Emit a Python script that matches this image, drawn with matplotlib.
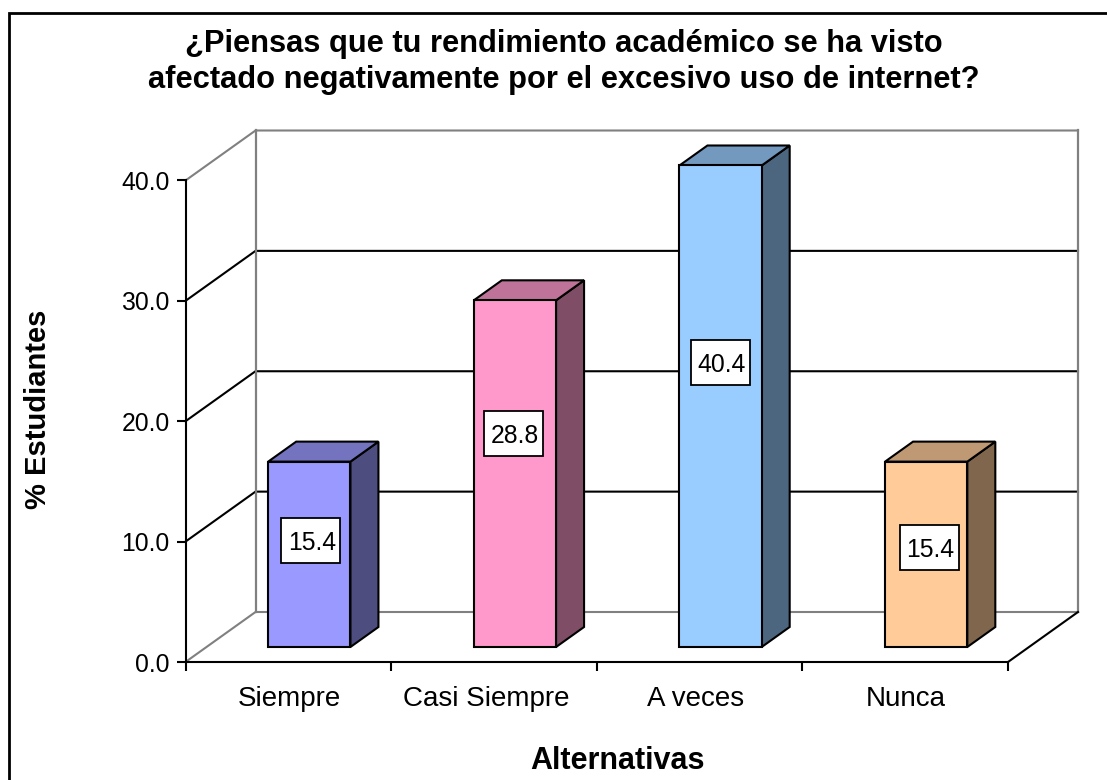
import matplotlib
matplotlib.use("Agg")
import matplotlib.pyplot as plt
import numpy as np
from matplotlib.colors import to_rgb
from matplotlib.lines import Line2D
from matplotlib.patches import Polygon, Rectangle
from matplotlib.transforms import IdentityTransform, ScaledTranslation

plt.rcParams['font.family'] = ['Liberation Sans', 'DejaVu Sans']

categories = ["Siempre", "Casi Siempre", "A veces", "Nunca"]
values = [15.4, 28.8, 40.4, 15.4]
colors = ["#9999FF", "#FF99CC", "#99CCFF", "#FFCC99"]
y_ticks = [0, 10, 20, 30, 40]
title = "¿Piensas que tu rendimiento académico se ha visto\nafectado negativamente por el excesivo uso de internet?"
x_label = "Alternativas"
y_label = "% Estudiantes"

# label centres, in axis units (they were hand placed in the original)
label_x = [0.610, 1.595, 2.602, 3.616]
label_y = [10.13, 19.0, 24.92, 9.55]
# small pixel shifts of the category labels
cat_shift = [1.5, -7.5, -4, 0.5]

W, H = 1107, 780
L, R, T, B = 185.5, 1008, 180.5, 662
YMAX = 40
fig = plt.figure(figsize=(W / 100, H / 100), dpi=100, facecolor="white")
ax = fig.add_axes([L / W, 1 - B / H, (R - L) / W, (B - T) / H])
ax.patch.set_alpha(0)
ax.set_xlim(0, len(categories))
ax.set_ylim(0, YMAX)

DX = 70 * len(categories) / (R - L)
DY = 50 * YMAX / (B - T)
GRAY = "#808080"
XN = len(categories)

# walls and gridlines
for t in y_ticks:
    c = GRAY if t in (0, YMAX) else "black"
    ax.plot([0, DX, XN + DX], [t, t + DY, t + DY], color=c, lw=1.5, zorder=1,
            clip_on=False, solid_joinstyle="miter")
ax.plot([DX, DX], [DY, YMAX + DY], color=GRAY, lw=1.6, zorder=1.1, clip_on=False)
ax.plot([XN + DX, XN + DX], [DY, YMAX + DY], color=GRAY, lw=1.6, zorder=1.1, clip_on=False)
ax.plot([XN, XN + DX], [0, DY], color="black", lw=1.5, zorder=1.2, clip_on=False)


def shade(col, f):
    return tuple(v * f for v in to_rgb(col))


# bars
BW, D0, D1 = 0.4, 0.3, 0.7
for i, (v, col) in enumerate(zip(values, colors)):
    h = min(v, YMAX)
    x0, x1 = i + 0.5 - BW / 2, i + 0.5 + BW / 2
    fx0, fx1 = x0 + D0 * DX, x1 + D0 * DX
    bx0, bx1 = x0 + D1 * DX, x1 + D1 * DX
    fb, ft = D0 * DY, h + D0 * DY
    bb, bt = D1 * DY, h + D1 * DY
    kw = dict(edgecolor="black", lw=1.5, clip_on=False, zorder=3, joinstyle="miter")
    ax.add_patch(Polygon([(fx1, fb), (bx1, bb), (bx1, bt), (fx1, ft)], facecolor=shade(col, 0.5), **kw))
    ax.add_patch(Polygon([(fx0, ft), (fx1, ft), (bx1, bt), (bx0, bt)], facecolor=shade(col, 0.75), **kw))
    ax.add_patch(Polygon([(fx0, fb), (fx1, fb), (fx1, ft), (fx0, ft)], facecolor=col, **kw))
    # fixed-size label box (59 x 45 px) around the centre
    box_tr = IdentityTransform() + ScaledTranslation(label_x[i], label_y[i], ax.transData)
    ax.add_patch(Rectangle((-29.5, -22.5), 59, 45, transform=box_tr, facecolor="white",
                           edgecolor="black", lw=1.3, zorder=4, clip_on=False))
    ax.annotate(f"{v:.1f}", (label_x[i], label_y[i]), xytext=(0.7, 0), textcoords="offset points",
                ha="center", va="center_baseline", fontsize=17.8, color="black", zorder=5,
                annotation_clip=False)

# axes
for s in ("top", "right"):
    ax.spines[s].set_visible(False)
for s in ("left", "bottom"):
    ax.spines[s].set_linewidth(1.5)
    ax.spines[s].set_zorder(2)
ax.set_yticks(y_ticks, [f"{t:.1f}" for t in y_ticks])
ax.set_xticks(np.arange(XN + 1), [""] * (XN + 1))
ax.set_xticks(np.arange(XN) + 0.5, categories, minor=True)
ax.tick_params(axis="y", length=6.5, width=1.5, labelsize=17.8, pad=5)
ax.tick_params(axis="x", which="major", length=6.5, width=1.5)
ax.tick_params(axis="x", which="minor", length=0, labelsize=20, pad=17)
for lab, dx in zip(ax.get_xticklabels(minor=True), cat_shift):
    lab.set_transform(lab.get_transform() + ScaledTranslation(dx / 100, 0, fig.dpi_scale_trans))

# title, axis titles
fig.text(564 / W, 1 - 62 / H, title, ha="center", va="center", fontsize=22.2,
         fontweight="bold", linespacing=1.3)
fig.text(617 / W, 1 - 761 / H, x_label, ha="center", va="center", fontsize=22, fontweight="bold")
fig.text(38 / W, 1 - 409 / H, y_label, ha="center", va="center", rotation=90, fontsize=21, fontweight="bold")

# chart frame: only its left and top edges fall inside the image
fig.add_artist(Line2D([9 / W, 9 / W, 1], [0, 1 - 13 / H, 1 - 13 / H], color="black", lw=2,
                      transform=fig.transFigure, solid_joinstyle="miter"))

fig.savefig("out.png", dpi=100, facecolor="white")
